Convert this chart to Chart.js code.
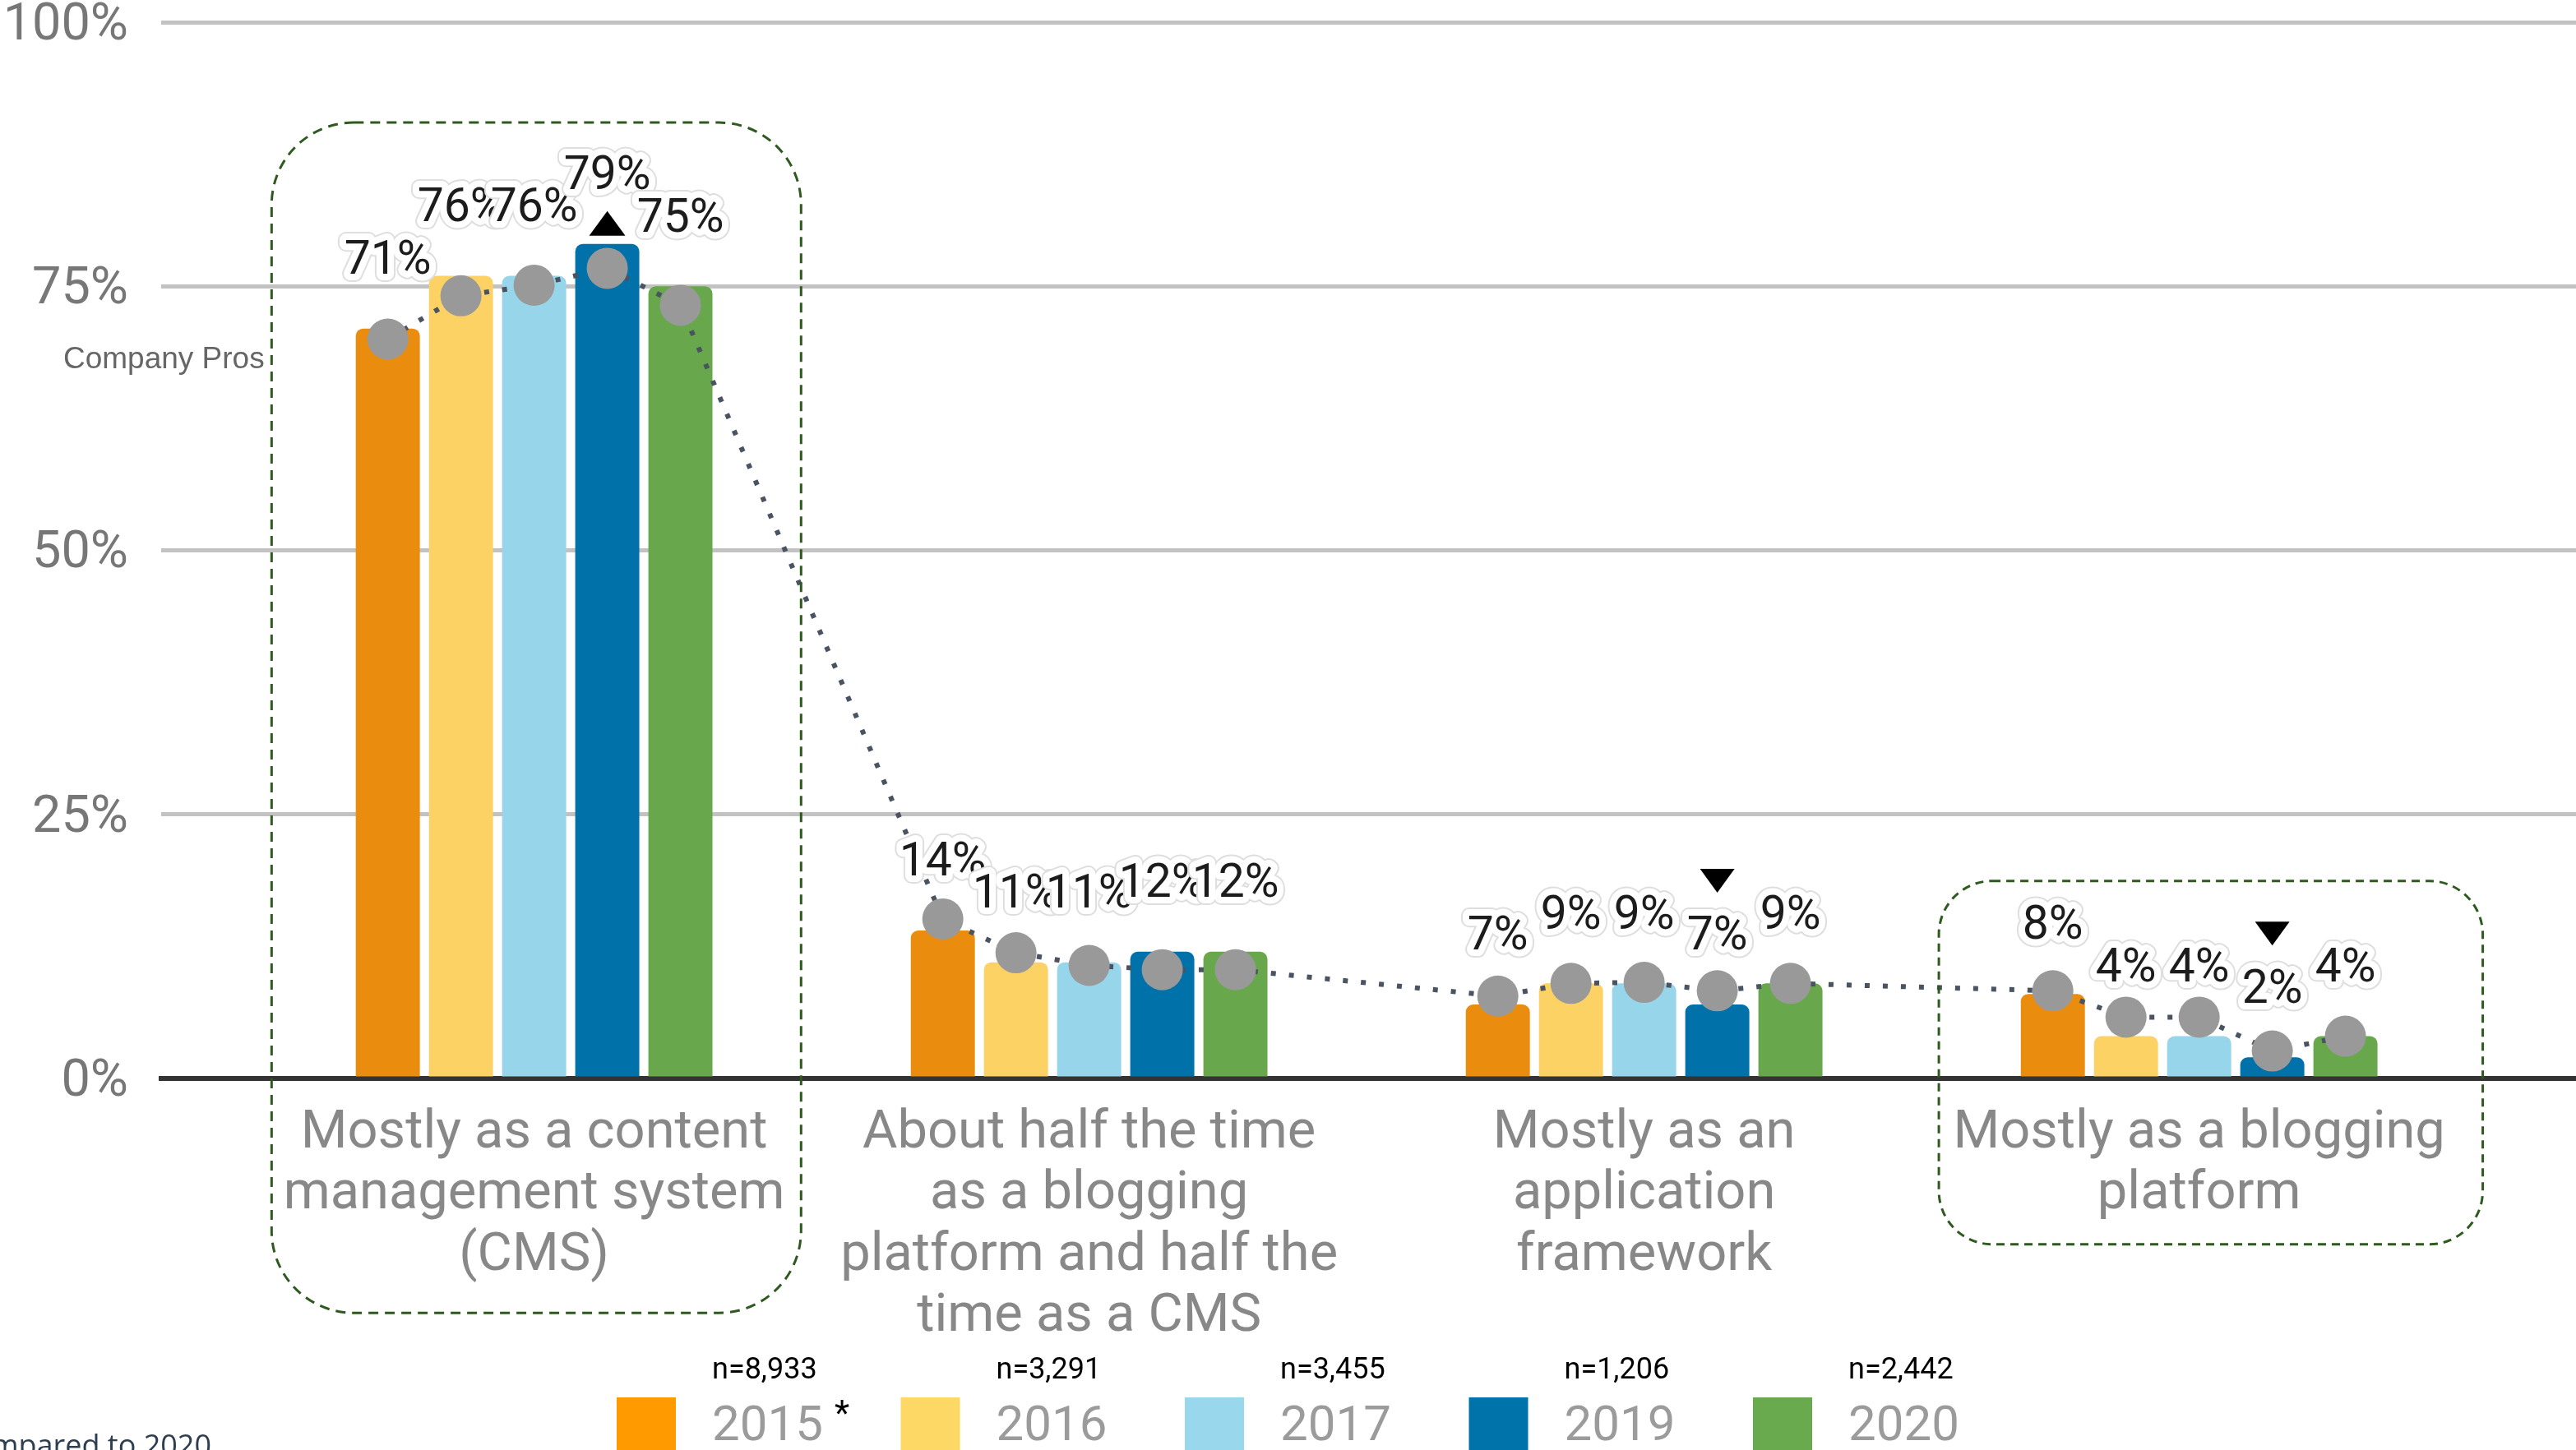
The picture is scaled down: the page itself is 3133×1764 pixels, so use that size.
<!DOCTYPE html>
<html>
<head>
<meta charset="utf-8">
<script src="https://cdn.jsdelivr.net/npm/chart.js@4"></script>
<style>
  html, body { margin: 0; padding: 0; background: #fff; overflow: hidden; }
  #wrap { width: 3133px; height: 1764px; position: relative; }
</style>
</head>
<body>
<div id="wrap"><canvas id="canvas"></canvas></div>
<script>
const categories = [
  ['Mostly as a content', 'management system', '(CMS)'],
  ['About half the time', 'as a blogging', 'platform and half the', 'time as a CMS'],
  ['Mostly as an', 'application', 'framework'],
  ['Mostly as a blogging', 'platform']
];
const years = ['2015', '2016', '2017', '2019', '2020'];
const sampleSizes = ['n=8,933', 'n=3,291', 'n=3,455', 'n=1,206', 'n=2,442'];
const colors = ['#EA8C0E', '#FCD265', '#97D5EA', '#0072A9', '#69A74D'];
const legendColors = ['#FF9A00', '#FDD865', '#99D8EC', '#0073AB', '#6AAA4F'];

const v2015 = [71, 14, 7, 8];
const v2016 = [76, 11, 9, 4];
const v2017 = [76, 11, 9, 4];
const v2019 = [79, 12, 7, 2];
const v2020 = [75, 12, 9, 4];
const series = [v2015, v2016, v2017, v2019, v2020];

// grey dots, one per bar, category by category
const companyPros = [
  70.0, 74.1, 75.1, 76.7, 73.2,
  15.1, 11.9, 10.7, 10.3, 10.3,
  7.8, 9.0, 9.1, 8.3, 9.0,
  8.3, 5.8, 5.8, 2.6, 4.0
];

// change markers on the 2019 bars
const marks2019 = ['up', '', 'down', 'down'];
const yTicks = [0, 25, 50, 75, 100];

const catPct = 0.659;
const barPct = 0.876;

// dashed highlight boxes, in axis units
const boxes = [
  { x0: -0.473, x1: 0.481, y0: -22.2, y1: 90.5, r: 100, dash: [12, 8] },
  { x0: 2.531, x1: 3.511, y0: -15.7, y1: 18.7, r: 65, dash: [10, 7] }
];

Chart.defaults.font.family = 'Roboto, "Noto Sans", sans-serif';

const datasets = series.map(function (vals, j) {
  return {
    type: 'bar',
    label: years[j],
    data: vals.map(function (v, i) { return { x: i, y: v }; }),
    backgroundColor: colors[j],
    borderRadius: { topLeft: 9, topRight: 9 },
    borderSkipped: 'bottom',
    categoryPercentage: catPct,
    barPercentage: barPct,
    order: 1
  };
});

datasets.push({
  type: 'line',
  label: 'Company Pros',
  data: companyPros.map(function (v, k) {
    const i = Math.floor(k / 5), j = k % 5;
    return { x: i + (j - 2) * catPct / 5, y: v };
  }),
  borderColor: '#4a5362',
  borderWidth: 6,
  borderDash: [6, 16],
  tension: 0,
  pointRadius: 25,
  pointHoverRadius: 25,
  pointBackgroundColor: '#999999',
  pointBorderWidth: 0,
  order: 0
});

function haloText(ctx, text, x, y) {
  ctx.lineJoin = 'round';
  ctx.strokeStyle = '#dedede';
  ctx.lineWidth = 20;
  ctx.strokeText(text, x, y);
  ctx.strokeStyle = '#ffffff';
  ctx.lineWidth = 16;
  ctx.strokeText(text, x, y);
  ctx.fillStyle = '#1c1c1c';
  ctx.fillText(text, x, y);
}

const extras = {
  id: 'extras',
  afterDatasetsDraw(chart) {
    const ctx = chart.ctx;
    ctx.save();
    ctx.font = '57px Roboto';
    ctx.textAlign = 'center';
    ctx.textBaseline = 'middle';
    for (let j = 0; j < series.length; j++) {
      chart.getDatasetMeta(j).data.forEach(function (el, i) {
        haloText(ctx, series[j][i] + '%', el.x, el.y - 81);
      });
    }
    // triangles on 2019
    ctx.fillStyle = '#000';
    chart.getDatasetMeta(3).data.forEach(function (el, i) {
      const m = marks2019[i];
      if (!m) return;
      ctx.beginPath();
      if (m === 'up') {
        const b = el.y - 10;
        ctx.moveTo(el.x - 22, b); ctx.lineTo(el.x + 22, b); ctx.lineTo(el.x, b - 30);
      } else {
        const t = el.y - 136;
        ctx.moveTo(el.x - 21, t - 29); ctx.lineTo(el.x + 21, t - 29); ctx.lineTo(el.x, t);
      }
      ctx.closePath();
      ctx.fill();
    });
    // series name next to the first dot
    const p0 = chart.getDatasetMeta(5).data[0];
    ctx.font = '37px "Liberation Sans", Arial, sans-serif';
    ctx.textAlign = 'right';
    ctx.textBaseline = 'alphabetic';
    ctx.fillStyle = '#666666';
    ctx.fillText('Company Pros', p0.x - 150, p0.y + 35);
    ctx.restore();
  },
  afterDraw(chart) {
    const ctx = chart.ctx;
    const xs = chart.scales.x, ys = chart.scales.y;
    ctx.save();
    ctx.strokeStyle = '#2f5a1f';
    ctx.lineWidth = 3;
    boxes.forEach(function (b) {
      const l = xs.getPixelForValue(b.x0), r = xs.getPixelForValue(b.x1);
      const t = ys.getPixelForValue(b.y1), btm = ys.getPixelForValue(b.y0);
      const rad = b.r;
      ctx.setLineDash(b.dash);
      ctx.beginPath();
      ctx.moveTo(l + rad, t);
      ctx.lineTo(r - rad, t);
      ctx.arcTo(r, t, r, t + rad, rad);
      ctx.lineTo(r, btm - rad);
      ctx.arcTo(r, btm, r - rad, btm, rad);
      ctx.lineTo(l + rad, btm);
      ctx.arcTo(l, btm, l, btm - rad, rad);
      ctx.lineTo(l, t + rad);
      ctx.arcTo(l, t, l + rad, t, rad);
      ctx.stroke();
    });
    ctx.setLineDash([]);

    // legend with sample sizes
    const lx = 750, pitch = 345.5;
    ctx.textAlign = 'left';
    ctx.textBaseline = 'alphabetic';
    years.forEach(function (y, j) {
      const bx = lx + j * pitch;
      ctx.fillStyle = legendColors[j];
      ctx.fillRect(bx, 1700, 72, 70);
      const tx = bx + 72 + 44;
      ctx.font = '60px Roboto';
      ctx.fillStyle = '#9b9b9b';
      ctx.fillText(y, tx, 1752);
      const w = ctx.measureText(y).width;
      ctx.font = '36px Roboto';
      ctx.fillStyle = '#000';
      ctx.fillText(sampleSizes[j], tx, 1677);
      if (j === 0) {
        ctx.font = '42px Roboto';
        ctx.fillText('*', tx + w + 14, 1733);
      }
    });

    // footnote, cut at the left edge
    ctx.font = '36px "Open Sans", sans-serif';
    ctx.fillStyle = '#2c3e50';
    ctx.textAlign = 'right';
    ctx.fillText('Significant change compared to 2020', 257, 1771);
    ctx.restore();
  }
};

const ctx = document.getElementById('canvas').getContext('2d');
const myChart = new Chart(ctx, {
  type: 'bar',
  data: { datasets: datasets },
  options: {
    responsive: true,
    maintainAspectRatio: false,
    animation: false,
    layout: { padding: { top: 27, right: 0, bottom: 0, left: 0 }, autoPadding: false },
    plugins: {
      legend: { display: false },
      tooltip: { enabled: false }
    },
    scales: {
      x: {
        type: 'linear',
        min: -0.672,
        max: 3.679,
        offset: false,
        z: 1,
        grid: { display: false, drawTicks: false, offset: false },
        border: { display: true, color: '#333333', width: 6 },
        afterBuildTicks: function (scale) {
          scale.ticks = categories.map(function (c, i) { return { value: i }; });
        },
        afterFit: function (scale) { scale.height = 452; },
        ticks: {
          autoSkip: false,
          maxRotation: 0,
          padding: 31,
          color: '#888888',
          font: { size: 65, lineHeight: 1.14 },
          callback: function (v) { return categories[v]; }
        }
      },
      y: {
        min: 0,
        max: 100,
        afterBuildTicks: function (scale) {
          scale.ticks = yTicks.map(function (v) { return { value: v }; });
        },
        afterFit: function (scale) { scale.width = 196; },
        grid: {
          drawTicks: true,
          tickLength: 40,
          tickColor: 'rgba(0,0,0,0)',
          color: '#c2c2c2',
          lineWidth: 5
        },
        border: { display: false },
        ticks: {
          padding: 0,
          labelOffset: 5,
          color: '#777777',
          font: { size: 63, lineHeight: 0.85 },
          callback: function (v) { return v + '%'; }
        }
      }
    }
  },
  plugins: [extras]
});
</script>
</body>
</html>
